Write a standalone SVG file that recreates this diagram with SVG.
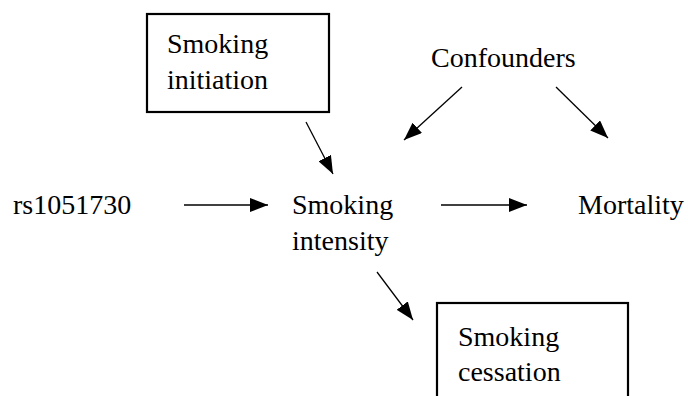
<svg xmlns="http://www.w3.org/2000/svg" width="688" height="396" viewBox="0 0 688 396">
<style>
.t{font-family:'Liberation Serif','Times New Roman','DejaVu Serif',serif;font-size:28px;fill:#000}
.box{fill:none;stroke:#000;stroke-width:2.2}
.edge{stroke:#000;stroke-width:1.3;fill:none;marker-end:url(#ah)}
</style>
<defs>
<marker id="ah" markerUnits="userSpaceOnUse" markerWidth="18" markerHeight="14" refX="18" refY="7" orient="auto">
<path d="M0,0 L18,7 L0,14 z" fill="#000"/>
</marker>
</defs>
<rect width="688" height="396" fill="#fff"/>
<g id="initiation">
<rect class="box" x="147" y="14" width="182" height="98"/>
<text class="t" font-family="Liberation Serif, serif" x="167" y="53">Smoking</text>
<text class="t" font-family="Liberation Serif, serif" x="167" y="89">initiation</text>
</g>
<g id="confounders">
<text class="t" font-family="Liberation Serif, serif" x="431" y="67">Confounders</text>
</g>
<g id="rs1051730">
<text class="t" font-family="Liberation Serif, serif" x="13" y="214">rs1051730</text>
</g>
<g id="intensity">
<text class="t" font-family="Liberation Serif, serif" x="292" y="214">Smoking</text>
<text class="t" font-family="Liberation Serif, serif" x="292" y="250">intensity</text>
</g>
<g id="mortality">
<text class="t" font-family="Liberation Serif, serif" x="578" y="214">Mortality</text>
</g>
<g id="cessation">
<rect class="box" x="437" y="303" width="191" height="110"/>
<text class="t" font-family="Liberation Serif, serif" x="458" y="346">Smoking</text>
<text class="t" font-family="Liberation Serif, serif" x="458" y="381">cessation</text>
</g>
<g id="connectors">
<line class="edge" x1="184" y1="205" x2="268" y2="205"/>
<line class="edge" x1="441" y1="205" x2="527" y2="205"/>
<line class="edge" x1="306" y1="122" x2="333" y2="174"/>
<line class="edge" x1="462" y1="87" x2="404" y2="140"/>
<line class="edge" x1="556" y1="87" x2="608" y2="138"/>
<line class="edge" x1="377" y1="272" x2="413" y2="320"/>
</g>
</svg>
